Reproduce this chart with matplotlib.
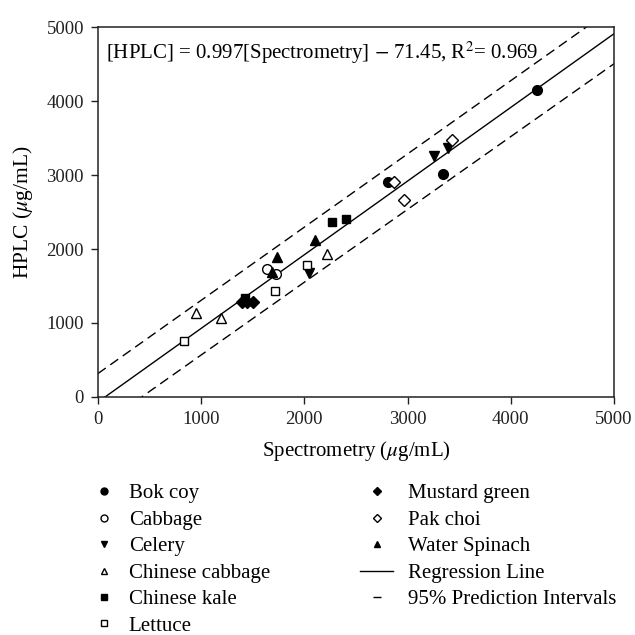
import matplotlib
matplotlib.use("Agg")
import matplotlib.pyplot as plt
from matplotlib.lines import Line2D
import numpy as np

plt.rcParams['font.family'] = ['Liberation Serif', 'DejaVu Serif']
plt.rcParams['mathtext.fontset'] = 'stix'

# ---- data ----
bok_x = [4249, 3342, 2808]
bok_y = [4148, 3009, 2910]
cabbage_x = [1634, 1729]
cabbage_y = [1726, 1668]
celery_x = [3258, 3393, 2047]
celery_y = [3265, 3363, 1682]
ccabbage_x = [947, 1194, 2219]
ccabbage_y = [1135, 1072, 1937]
kale_x = [1424, 2270, 2405]
kale_y = [1332, 2363, 2408]
lettuce_x = [839, 1712, 2023]
lettuce_y = [762, 1435, 1780]
mustard_x = [1397, 1448, 1499]
mustard_y = [1278, 1278, 1278]
pak_x = [2869, 2963, 3427]
pak_y = [2901, 2664, 3475]
spinach_x = [1735, 1685, 2101]
spinach_y = [1892, 1695, 2117]

slope = 0.997
intercept = -71.45
line_x = [0, 5000]
upper_x = [0, 5000]
upper_y = [314, 5269]
lower_x = [0, 5000]
lower_y = [-420, 4507]

xticks = [0, 1000, 2000, 3000, 4000, 5000]
yticks = [0, 1000, 2000, 3000, 4000, 5000]

fig = plt.figure(figsize=(6.35, 6.35), dpi=100)
ax = fig.add_axes([0.154, 0.375, 0.813, 0.582])

ms = 7
ax.plot(bok_x, bok_y, 'o', color='k', ms=ms, label='Bok coy', zorder=3)
ax.plot(cabbage_x, cabbage_y, 'o', mfc='white', mec='k', ms=ms, label='Cabbage', zorder=3)
ax.plot(celery_x, celery_y, 'v', color='k', ms=ms, label='Celery', zorder=3)
ax.plot(ccabbage_x, ccabbage_y, '^', mfc='white', mec='k', ms=ms, label='Chinese cabbage', zorder=3)
ax.plot(kale_x, kale_y, 's', color='k', ms=ms - 0.7, label='Chinese kale', zorder=3)
ax.plot(lettuce_x, lettuce_y, 's', mfc='white', mec='k', ms=ms - 0.7, label='Lettuce', zorder=3)
ax.plot(mustard_x, mustard_y, 'D', color='k', ms=ms - 1.3, label='Mustard green', zorder=3)
ax.plot(pak_x, pak_y, 'D', mfc='white', mec='k', ms=ms - 1.3, label='Pak choi', zorder=3)
ax.plot(spinach_x, spinach_y, '^', color='k', ms=ms, label='Water Spinach', zorder=3)

lx = np.array(line_x, dtype=float)
ax.plot(lx, slope * lx + intercept, color='k', lw=1.0, label='Regression Line')
ax.plot(upper_x, upper_y, color='k', lw=1.0, ls=(0, (7, 4)))
ax.plot(lower_x, lower_y, color='k', lw=1.0, ls=(0, (7, 4)))

ax.set_xlim(0, 5000)
ax.set_ylim(0, 5000)
ax.set_xticks(xticks)
ax.set_yticks(yticks)
ax.tick_params(direction='out', length=5, width=1.0, labelsize=13.5, pad=5,
               top=False, right=False, colors='#222222')
for s in ax.spines.values():
    s.set_linewidth(1.1)
    s.set_color('#222222')

ax.set_xlabel('Spectrometry ($\\mu$g/mL)', fontsize=15, labelpad=8)
ax.set_ylabel('HPLC ($\\mu$g/mL)', fontsize=15.5, labelpad=8)

ax.text(0.015, 0.967, '[HPLC] = 0.997[Spectrometry] $-$ 71.45, R$^2$= 0.969',
        transform=ax.transAxes, ha='left', va='top', fontsize=15)

left_handles = [
    Line2D([], [], marker='o', color='k', ls='None', ms=5),
    Line2D([], [], marker='o', mfc='white', mec='k', ls='None', ms=5),
    Line2D([], [], marker='v', color='k', ls='None', ms=5),
    Line2D([], [], marker='^', mfc='white', mec='k', ls='None', ms=5),
    Line2D([], [], marker='s', color='k', ls='None', ms=4.5),
    Line2D([], [], marker='s', mfc='white', mec='k', ls='None', ms=4.5),
]
left_labels = ['Bok coy', 'Cabbage', 'Celery', 'Chinese cabbage', 'Chinese kale', 'Lettuce']
right_handles = [
    Line2D([], [], marker='D', color='k', ls='None', ms=4.5),
    Line2D([], [], marker='D', mfc='white', mec='k', ls='None', ms=4.5),
    Line2D([], [], marker='^', color='k', ls='None', ms=5),
    Line2D([], [], color='k', lw=1.0),
    Line2D([], [], marker='_', color='k', ls='None', ms=6, mew=1.0),
]
right_labels = ['Mustard green', 'Pak choi', 'Water Spinach', 'Regression Line',
                '95% Prediction Intervals']

common = dict(loc='upper left', frameon=False, fontsize=15, handletextpad=0.7,
              labelspacing=0.33, borderpad=0, borderaxespad=0)
fig.legend(left_handles, left_labels, bbox_to_anchor=(0.147, 0.238),
           handlelength=1.0, **common)
fig.legend(right_handles, right_labels, bbox_to_anchor=(0.567, 0.238),
           handlelength=1.6, **common)

fig.savefig('out.png', dpi=100)
